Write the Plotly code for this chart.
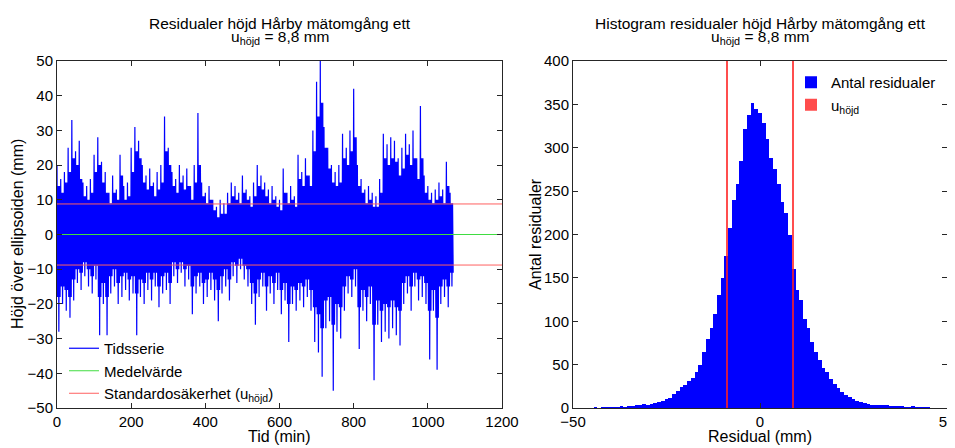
import plotly.graph_objects as go

# ---------------- data ----------------
# Time series, per 10-minute block: extreme spike high / low and the dense-core high / low
t_blocks = list(range(0, 1061, 10))
hi_vals = [20, 16, 18, 25, 33, 24, 27, 15, 14, 16,
           23, 28, 21, 18, 12, 17, 13, 23, 14, 15,
           25, 31, 27, 20, 17, 19, 15, 18, 20, 34,
           25, 18, 16, 20, 17, 19, 14, 20, 35, 15,
           12, 14, 10, 8, 10, 9, 12, 15, 14, 12,
           17, 13, 11, 15, 20, 17, 15, 13, 14, 11,
           10, 19, 12, 14, 11, 23, 18, 22, 17, 30,
           44, 50, 31, 25, 20, 18, 20, 29, 25, 30,
           42, 20, 16, 13, 14, 12, 11, 16, 29, 26,
           28, 27, 22, 25, 29, 26, 30, 22, 37, 17,
           14, 12, 13, 15, 13, 21, 12]
lo_vals = [-28, -20, -22, -24, -19, -14, -16, -12, -15, -17,
           -13, -29, -20, -29, -17, -15, -20, -18, -16, -19,
           -17, -29, -18, -20, -16, -19, -15, -21, -17, -16,
           -20, -12, -14, -11, -15, -13, -23, -17, -15, -20,
           -18, -16, -19, -25, -17, -15, -19, -12, -14, -10,
           -13, -15, -20, -26, -18, -15, -22, -17, -20, -16,
           -23, -19, -31, -20, -22, -19, -21, -18, -22, -31,
           -34, -41, -27, -25, -45, -28, -30, -22, -17, -18,
           -15, -33, -22, -25, -20, -42, -26, -31, -28, -30,
           -27, -29, -32, -20, -17, -22, -15, -19, -18, -20,
           -36, -22, -39, -20, -18, -21, -15]
core_hi = [14, 12, 15, 18, 22, 20, 16, 11, 10, 12,
           18, 20, 15, 12, 9, 12, 10, 17, 10, 11,
           18, 24, 22, 15, 13, 14, 11, 13, 15, 24,
           20, 14, 12, 15, 13, 14, 10, 15, 20, 11,
           9, 10, 7, 5, 6, 6, 9, 11, 10, 9,
           12, 10, 8, 11, 14, 13, 11, 9, 10, 8,
           7, 12, 9, 10, 8, 16, 14, 17, 14, 24,
           34, 38, 25, 19, 15, 14, 15, 22, 20, 24,
           28, 14, 12, 9, 10, 8, 8, 12, 22, 20,
           22, 21, 17, 19, 23, 20, 22, 16, 22, 12,
           10, 9, 10, 11, 9, 14, 9]
core_lo = [-18, -15, -16, -18, -13, -10, -11, -8, -10, -12,
           -9, -18, -14, -18, -12, -10, -14, -12, -11, -13,
           -12, -17, -13, -14, -11, -13, -11, -15, -12, -11,
           -14, -8, -10, -8, -10, -9, -15, -12, -11, -14,
           -13, -11, -13, -16, -12, -10, -13, -8, -9, -7,
           -9, -10, -14, -17, -13, -11, -15, -12, -14, -11,
           -16, -14, -20, -15, -16, -14, -15, -13, -16, -21,
           -23, -27, -19, -18, -26, -20, -21, -15, -12, -13,
           -10, -21, -16, -18, -15, -26, -19, -22, -20, -21,
           -19, -21, -22, -14, -12, -15, -11, -13, -12, -14,
           -22, -16, -24, -15, -13, -15, -11]
mean_val = 0.0
u_hojd = 8.8

# Histogram: counts per 1-mm bin (bin centres in mm)
hist_centres = list(range(-44, 46))
hist_counts = [1, 0, 1, 1, 1, 1, 1, 2, 1, 2,
               2, 3, 3, 5, 4, 5, 6, 7, 8, 10,
               12, 16, 20, 24, 27, 31, 35, 41, 50, 64,
               79, 92, 108, 130, 150, 175, 208, 240, 258, 285,
               322, 338, 352, 345, 340, 328, 310, 288, 276, 258,
               238, 225, 200, 160, 136, 125, 103, 92, 76, 65,
               55, 46, 41, 34, 28, 23, 19, 15, 13, 10,
               8, 7, 6, 5, 4, 4, 3, 3, 3, 2,
               2, 2, 2, 1, 1, 2, 1, 1, 1, 1]
hist_top = 400

left_xticks = [0, 200, 400, 600, 800, 1000, 1200]
left_yticks = [-50, -40, -30, -20, -10, 0, 10, 20, 30, 40, 50]
right_xticks = [-50, 0, 50]
right_yticks = [0, 50, 100, 150, 200, 250, 300, 350, 400]

# ---------------- build ----------------
W, H = 955, 448
OFF = 8  # page body margin


def px(x):
    return (x - OFF) / W


def py(y):
    return 1 - (y - OFF) / H


ts_x, ts_y = [], []
step = 10 / 6
for t, h, cl, l, ch in zip(t_blocks, hi_vals, core_lo, lo_vals, core_hi):
    ts_x += [t + k * step for k in range(6)]
    ts_y += [h, cl, ch, l, ch, cl]

FONT = "Liberation Sans, Arial, sans-serif"
BLUE = "#0000ff"
RED = "#ff6060"
GREEN = "#40dd40"

fig = go.Figure()

fig.add_trace(go.Scatter(x=ts_x, y=ts_y, mode="lines", name="Tidsserie",
                         line=dict(color=BLUE, width=1.2), xaxis="x", yaxis="y",
                         legend="legend"))
fig.add_trace(go.Scatter(x=[0, 1200], y=[mean_val, mean_val], mode="lines",
                         name="Medelvärde", line=dict(color=GREEN, width=1),
                         xaxis="x", yaxis="y", legend="legend"))
fig.add_trace(go.Scatter(x=[0, 1200, None, 0, 1200],
                         y=[u_hojd, u_hojd, None, -u_hojd, -u_hojd], mode="lines",
                         name="Standardosäkerhet (u<sub>höjd</sub>)",
                         line=dict(color=RED, width=1), xaxis="x", yaxis="y",
                         legend="legend"))

fig.add_trace(go.Bar(x=hist_centres, y=hist_counts, width=1.0,
                     marker=dict(color=BLUE, line=dict(width=0)),
                     name="Antal residualer", xaxis="x2", yaxis="y2",
                     legend="legend2"))
fig.add_trace(go.Bar(x=[-u_hojd, u_hojd], y=[hist_top, hist_top], width=0.22,
                     marker=dict(color="#ff2020", line=dict(width=0)),
                     opacity=0.8,
                     name="u<sub>höjd</sub>", xaxis="x2", yaxis="y2",
                     legend="legend2"))

axis_common = dict(showline=True, linecolor="#262626", linewidth=1, mirror="ticks",
                   ticks="inside", ticklen=5, tickcolor="#262626",
                   showgrid=False, zeroline=False, ticklabeloverflow="allow",
                   tickfont=dict(family=FONT, size=15, color="#000"))

ydom = [py(408), py(61)]


def ann(text, x, y, size, angle=0):
    return dict(text=text, x=px(x), y=py(y), xref="paper", yref="paper",
                xanchor="center", yanchor="middle", showarrow=False,
                textangle=angle, font=dict(family=FONT, size=size, color="#000"))


fig.update_layout(
    width=W, height=H,
    margin=dict(l=0, r=0, t=0, b=0, autoexpand=False),
    paper_bgcolor="white", plot_bgcolor="white",
    font=dict(family=FONT, size=15, color="#000"),
    bargap=0, barmode="overlay",
    xaxis=dict(domain=[px(57), px(502)], range=[0, 1200], tickvals=left_xticks,
               anchor="y", **axis_common),
    yaxis=dict(domain=ydom, range=[-50, 50], tickvals=left_yticks, anchor="x",
               **axis_common),
    xaxis2=dict(domain=[px(573), px(947)], range=[-50, 50], tickvals=right_xticks,
                anchor="y2", **axis_common),
    yaxis2=dict(domain=ydom, range=[0, 400], tickvals=right_yticks, anchor="x2",
                **axis_common),
    legend=dict(x=px(64), y=py(332), xanchor="left", yanchor="top",
                bgcolor="rgba(0,0,0,0)", borderwidth=0, itemwidth=30,
                font=dict(family=FONT, size=15), tracegroupgap=0),
    legend2=dict(x=px(791), y=py(66), xanchor="left", yanchor="top",
                 bgcolor="rgba(0,0,0,0)", borderwidth=0, itemwidth=30,
                 font=dict(family=FONT, size=15), tracegroupgap=0),
    annotations=[
        ann("Residualer höjd Hårby mätomgång ett", 279.5, 23, 15.5),
        ann("u<sub>höjd</sub> = 8,8 mm", 279.5, 38, 15.5),
        ann("Histogram residualer höjd Hårby mätomgång ett", 760, 23, 15.5),
        ann("u<sub>höjd</sub> = 8,8 mm", 760, 38, 15.5),
        ann("Tid (min)", 279.5, 436, 16),
        ann("Residual (mm)", 760, 436, 16),
        ann("Höjd över ellipsoiden (mm)", 17, 234, 16, -90),
        ann("Antal residualer", 535, 234, 16, -90),
    ],
)

fig.write_html("out.html")
